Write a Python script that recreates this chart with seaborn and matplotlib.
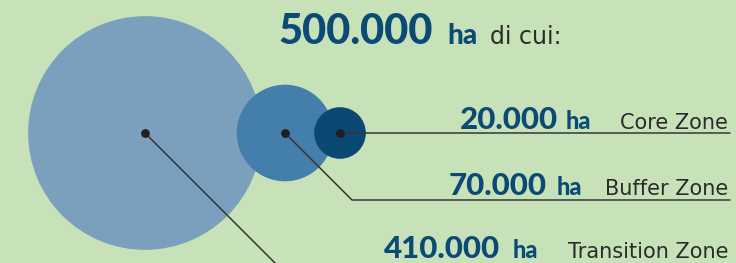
import matplotlib
matplotlib.use("Agg")
import matplotlib.pyplot as plt
from matplotlib.patches import Circle
import numpy as np
import pandas as pd
import seaborn as sns

# dati: superficie per zona (ettari)
zone = ["Transition Zone", "Buffer Zone", "Core Zone"]
ettari = [410000, 70000, 20000]
totale = 500000
colori = ["#7ba0bd", "#447fab", "#0b4872"]

def fmt(v):
    return f"{v:,}".replace(",", ".")

df = pd.DataFrame({"zona": zone, "ettari": ettari})
# raggio proporzionale alla radice dell'area
df["raggio"] = 0.1825 * np.sqrt(df["ettari"])
df["cx"] = [145, 285, 340]
df["cy"] = 133

sns.set_theme(style="white")
plt.rcParams["font.family"] = ["Lato", "DejaVu Sans"]

bg = "#c7e2b9"
blu = "#0b4a75"
grigio = "#2b2b2b"

fig = plt.figure(figsize=(7.36, 2.63), dpi=100, facecolor=bg)
ax = fig.add_axes([0, 0, 1, 1])
ax.set_facecolor(bg)
ax.set_xlim(0, 736)
ax.set_ylim(263, 0)
ax.axis("off")

for _, r in df.iterrows():
    ax.add_patch(Circle((r["cx"], r["cy"]), r["raggio"], color=colori[zone.index(r["zona"])], lw=0))

# linee di richiamo
lc = "#363636"
ax.plot([340, 730], [133, 133], color=lc, lw=1.1)
ax.plot([285, 352, 730], [133, 200, 200], color=lc, lw=1.1)
ax.plot([145, 290], [133, 278], color=lc, lw=1.1)

sns.scatterplot(data=df, x="cx", y="cy", color="#231f20", s=40, linewidth=0, ax=ax, zorder=5)

peso = "black"

# titolo
ax.text(278, 44, fmt(totale), fontsize=30, fontweight=peso, color=blu, va="baseline", ha="left")
ax.text(447, 44, "ha", fontsize=20, fontweight=peso, color=blu, va="baseline", ha="left")
ax.text(490, 44, "di cui:", fontsize=17, color=grigio, va="baseline", ha="left",
        family=["DejaVu Sans"])

# etichette
base_y = [258, 195, 129]
num_end = [500, 547, 558]
ha_x = [513, 557, 566]
for i, z in enumerate(zone):
    ax.text(num_end[i], base_y[i], fmt(ettari[i]), fontsize=22.5, fontweight=peso, color=blu, va="baseline", ha="right")
    ax.text(ha_x[i], base_y[i], "ha", fontsize=17, fontweight=peso, color=blu, va="baseline", ha="left")
    ax.text(728, base_y[i], z, fontsize=15, color=grigio, va="baseline", ha="right",
            family=["DejaVu Sans"])

fig.savefig("out.png", dpi=100, facecolor=bg)
